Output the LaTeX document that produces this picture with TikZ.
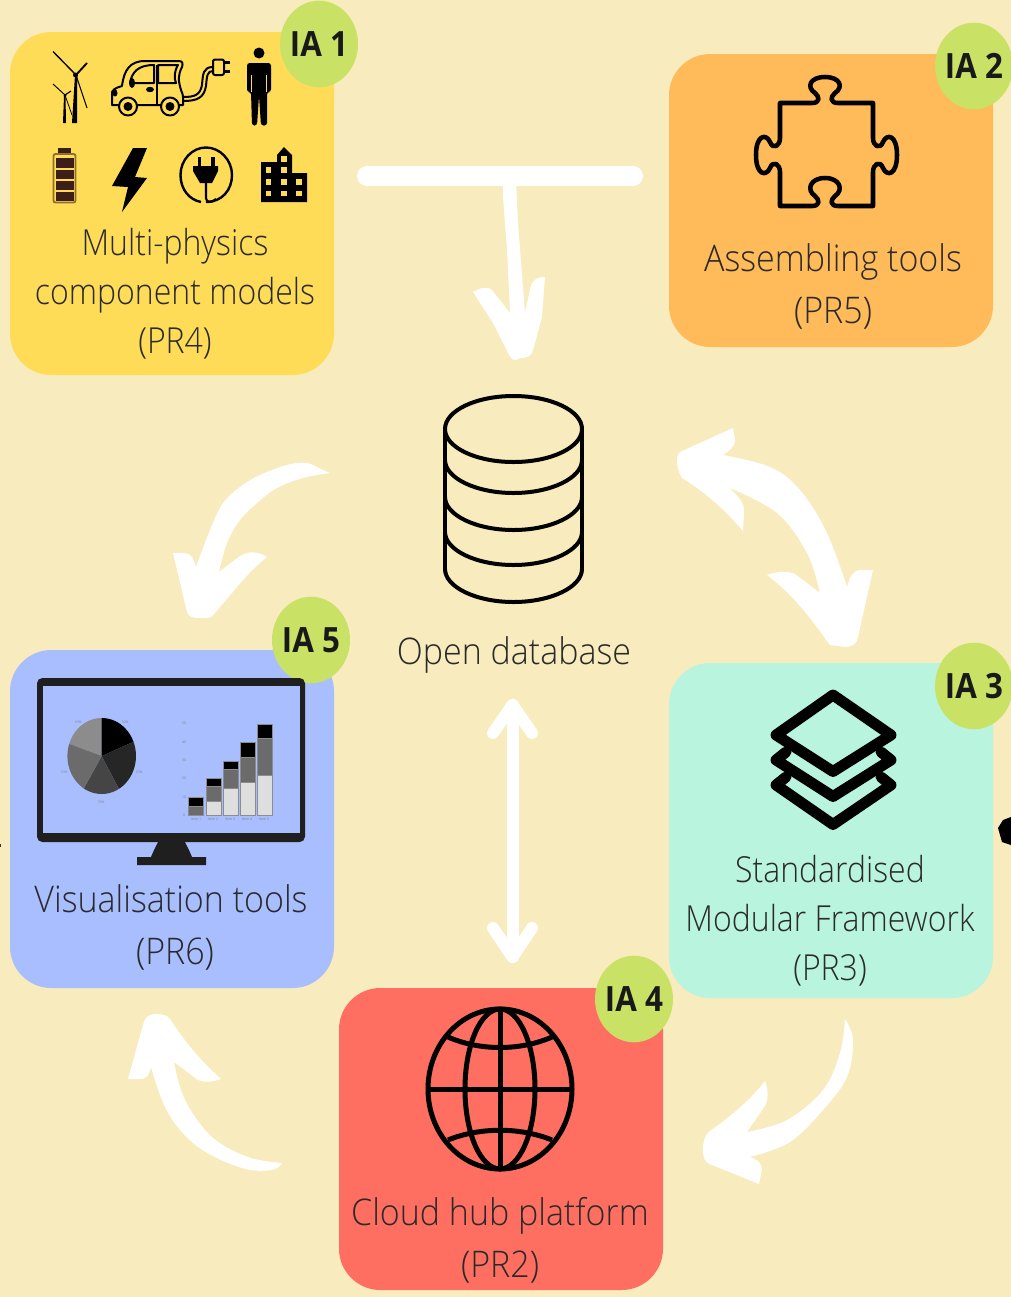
\documentclass[tikz,border=0pt]{standalone}
\usepackage{fontspec}
\setmainfont{Open Sans}
\newfontfamily\lightfont{Open Sans Light}
\definecolor{bgc}{HTML}{F8EBBD}
\definecolor{yel}{HTML}{FFDC58}
\definecolor{ora}{HTML}{FFBA59}
\definecolor{min}{HTML}{B9F4DF}
\definecolor{blu}{HTML}{A8BEFF}
\definecolor{red1}{HTML}{FF6F61}
\definecolor{grn}{HTML}{C9E265}
\definecolor{txt}{HTML}{2A2A2A}
\definecolor{cell}{HTML}{3D1F17}
\definecolor{batt}{HTML}{8F6E2E}
\newcommand\dbarc[1]{\draw[dbline] (445,#1-33) .. controls (445,#1-15) and (476,#1) .. (513.5,#1) .. controls (551,#1) and (582,#1-15) .. (582,#1-33);}
\tikzset{
 box/.style={rounded corners=31pt,inner sep=0pt,draw=none},
 badge/.style={circle,fill=grn,inner sep=0pt,minimum size=58.5pt,yscale=1.11,transform shape,font=\bfseries\fontsize{23.5}{25}\selectfont,text=black!90},
 lab/.style={transform shape,yscale=1.12,align=center,inner sep=0pt,text=txt,font=\lightfont\fontsize{24}{32.8}\selectfont},
 labb/.style={transform shape,yscale=1.08,align=center,inner sep=0pt,text=txt,font=\lightfont\fontsize{25.5}{36.1}\selectfont},
 dbline/.style={line width=3pt,black},
 curve/.style={smooth,tension=0.6},
 tiny/.style={text=gray,font=\fontsize{2.6}{3}\selectfont,inner sep=0pt}
}
\begin{document}
\begin{tikzpicture}[x=0.75pt,y=-0.75pt]
\useasboundingbox (0,0) rectangle (1011,1297);
\fill[bgc] (0,0) rectangle (1011,1297);
% stray marks
\fill[black] (998,828) -- (1003,820) -- (1011,817) -- (1011,845) -- (1002,842) -- cycle;
\fill[black!80] (0,844) rectangle (1,847);
% boxes
\node[box,fill=yel,minimum width=243pt,minimum height=257.25pt] (b1) at (172,203.5) {};
\node[box,fill=ora,minimum width=243pt,minimum height=219.75pt] (b2) at (831,200.5) {};
\node[box,fill=min,minimum width=243pt,minimum height=251.25pt] (b3) at (831,830.5) {};
\node[box,fill=blu,minimum width=243pt,minimum height=253.5pt] (b5) at (172,819) {};
\node[box,fill=red1,minimum width=243pt,minimum height=226.5pt] (b4) at (501,1139) {};
% badges
\node[badge] (i1) at (319,44) {IA 1};
\node[badge] (i2) at (974,66) {IA 2};
\node[badge] (i3) at (974,686) {IA 3};
\node[badge] (i4) at (634,999) {IA 4};
\node[badge] (i5) at (311,640) {IA 5};
% labels
\node[lab] (t1) at (175,294) {Multi-physics\\component models\\(PR4)};
\node[labb] (t2) at (833,286) {Assembling tools\\(PR5)};
\node[labb] (t0) at (514,655) {Open database};
\node[lab] (t3) at (830,920.5) {Standardised\\Modular Framework\\(PR3)};
\node[labb] (t5) at (171,927) {Visualisation tools\\\hspace*{6pt}(PR6)};
\node[labb] (t4) at (500,1240) {Cloud hub platform\\(PR2)};
% T bar + arrow
\coordinate (barL) at (367,176);
\coordinate (barR) at (633,176);
\draw[white,line width=15pt,line cap=round] (barL) -- (barR);
\fill[white] (503,180) -- (516,180) -- (518,223) -- (525,313) -- (530,290) .. controls (531,281) and (536,277) .. (545,277) -- (542,317) -- (533,350) .. controls (531,356) and (528,358) .. (520,358) -- (516,360) .. controls (512,360) and (511,358) .. (509,355) -- (493,323) -- (473,292) .. controls (478,289) and (486,285) .. (492,290) -- (510,313) -- (507,250) -- (503,197) -- cycle;
% bidirectional curved: database and framework
\coordinate (a2s) at (723,455);
\fill[white] plot[curve] coordinates {(a2s) (770,467) (800,490) (827,533) (847,587)} .. controls (850,578) and (851,571) .. (860,570) -- (873,570) -- (858,637) .. controls (857,644) and (852,647) .. (845,647) -- (830,645) .. controls (820,632) and (800,600) .. (767,575) .. controls (775,572) and (785,570) .. (795,574) -- (820,593) -- plot[curve] coordinates {(820,593) (807,553) (777,513) (730,488)} .. controls (740,498) and (745,505) .. (744,512) -- (743,531) .. controls (725,510) and (705,492) .. (682,478) .. controls (678,472) and (677,465) .. (677,460) .. controls (677,455) and (679,452) .. (682,451) -- (733,428) -- (735,440) .. controls (735,447) and (730,450) .. (a2s) -- cycle;
% database to visualisation
\fill[white] plot[curve] coordinates {(330,473) (323,470) (307,463) (287,465) (260,475) (240,487) (223,503) (210,530) (196,567)} .. controls (193,556) and (190,553) .. (183,553) -- (173,553) -- (187,612) .. controls (189,618) and (195,618) .. (200,618) -- (206,618) .. controls (210,618) and (212,617) .. (215,613) -- (237,587) .. controls (247,575) and (257,565) .. (267,557) .. controls (258,551) and (248,551) .. (240,556) -- (219,572) -- plot[curve] coordinates {(219,572) (227,543) (240,520) (257,503) (277,488) (303,478) (330,473)} -- cycle;
% framework to cloud
\fill[white] plot[curve] coordinates {(845,1019) (853,1040) (847,1077) (823,1110) (790,1142) (750,1157)} .. controls (758,1160) and (762,1163) .. (762,1170) -- (759,1184) -- (712,1165) .. controls (704,1163) and (703,1156) .. (703,1150) .. controls (703,1142) and (704,1136) .. (710,1131) .. controls (735,1113) and (750,1100) .. (765,1081) .. controls (769,1090) and (768,1100) .. (765,1106) -- (747,1132) -- plot[curve] coordinates {(747,1132) (787,1120) (823,1090) (840,1053) (845,1019)} -- cycle;
% cloud to visualisation
\fill[white] plot[curve] coordinates {(282,1163) (272,1170) (242,1168) (198,1147) (168,1113) (151,1067)} .. controls (149,1075) and (147,1079) .. (140,1079) -- (128,1079) -- (143,1025) .. controls (145,1016) and (150,1014) .. (156,1014) .. controls (162,1014) and (167,1015) .. (170,1019) .. controls (185,1042) and (200,1060) .. (221,1079) .. controls (212,1082) and (205,1083) .. (198,1080) -- (174,1062) -- plot[curve] coordinates {(174,1062) (185,1100) (212,1137) (248,1157) (282,1163)} -- cycle;
% vertical double arrow
\coordinate (vT) at (512.5,705);
\coordinate (vB) at (512.5,957);
\draw[white,line width=9pt,line cap=round,line join=round] (vT) -- (vB);
\draw[white,line width=9pt,line cap=round,line join=round] (493,733) -- (vT) -- (532,733);
\draw[white,line width=9pt,line cap=round,line join=round] (493,928) -- (vB) -- (532,928);
% database
\draw[dbline] (513.5,429) ellipse [x radius=68.5,y radius=33];
\draw[dbline] (445,429) -- (445,569);
\draw[dbline] (582,429) -- (582,569);
\dbarc{493}\dbarc{530}\dbarc{565}\dbarc{602}
% globe
\begin{scope}[line width=3.75pt,black]
\draw (500,1089) ellipse [x radius=72,y radius=80];
\draw (500,1089) ellipse [x radius=35,y radius=80];
\draw (500,1009) -- (500,1169);
\draw (428,1089) -- (572,1089);
\draw (448,1037) .. controls (480,1051) and (520,1051) .. (552,1037);
\draw (448,1140) .. controls (480,1127) and (520,1127) .. (552,1140);
\end{scope}
% puzzle
\draw[black,line width=3.4pt,line join=round] (780,103) -- (812,103) .. controls (820,103) and (820,97) .. (815,93) .. controls (806,87) and (810,77) .. (825,77) .. controls (840,77) and (844,87) .. (835,93) .. controls (830,97) and (830,103) .. (838,103) -- (873,103) -- (873,138) .. controls (873,146) and (880,150) .. (883,142) .. controls (887,133) and (897,135) .. (897,155) .. controls (897,175) and (887,177) .. (883,168) .. controls (880,160) and (873,164) .. (873,172) -- (873,206) -- (838,206) .. controls (830,206) and (830,200) .. (835,196) .. controls (844,190) and (840,178) .. (825,178) .. controls (810,178) and (806,190) .. (815,196) .. controls (820,200) and (820,206) .. (812,206) -- (780,206) -- (780,172) .. controls (780,164) and (773,160) .. (770,168) .. controls (766,177) and (756,175) .. (756,155) .. controls (756,135) and (766,133) .. (770,142) .. controls (773,150) and (780,146) .. (780,138) -- cycle;
% layers
\begin{scope}[line width=8.2pt,black,line join=round,line cap=round]
\draw (833,695) -- (891,735) -- (833,771.5) -- (776,735) -- cycle;
\draw (786,752) -- (776,760) -- (833,796.5) -- (891,760) -- (881,752);
\draw (786,777) -- (776,785) -- (833,824.5) -- (891,785) -- (881,777);
\end{scope}
% monitor
\fill[black!88,rounded corners=4pt] (37,678) rectangle (305,842);
\fill[blu] (42.5,686) rectangle (299.5,833);
\fill[black!88] (158,842) -- (185,842) .. controls (188,848) and (190,852) .. (192,857) -- (206,857) -- (206,865) -- (137,865) -- (137,857) -- (151,857) .. controls (153,852) and (155,848) .. (158,842) -- cycle;
% pie
\begin{scope}
\clip (101.7,756) ellipse [x radius=34.3,y radius=38];
\fill[black!45] (101.7,756) -- (101.7,700) -- (50,700) -- (40,733) -- cycle;
\fill[black] (101.7,756) -- (101.7,700) -- (160,700) -- (160,730) -- cycle;
\fill[black!85] (101.7,756) -- (160,730) -- (160,800) -- (130,810) -- cycle;
\fill[black!73] (101.7,756) -- (130,810) -- (72,810) -- cycle;
\fill[black!58] (101.7,756) -- (72,810) -- (40,790) -- (40,733) -- cycle;
\end{scope}
\node[tiny] (pa) at (78,722) {10\%};
\node[tiny] (pb) at (125,722) {10\%};
\node[tiny] (pc) at (64,772) {10\%};
\node[tiny] (pd) at (139,772) {10\%};
\node[tiny] (pe) at (101,802) {10\%};
% bars
\begin{scope}[draw=black!45,line width=0.4pt]
\filldraw[fill=black!58] (188,815.7) rectangle (203,806);
\filldraw[fill=black] (188,806) rectangle (203,797);
\filldraw[fill=black!13] (206,815.7) rectangle (221,801);
\filldraw[fill=black!58] (206,801) rectangle (221,786);
\filldraw[fill=black] (206,786) rectangle (221,778);
\filldraw[fill=black!13] (223,815.7) rectangle (238,788);
\filldraw[fill=black!58] (223,788) rectangle (238,769);
\filldraw[fill=black] (223,769) rectangle (238,761);
\filldraw[fill=black!13] (240,815.7) rectangle (255,782);
\filldraw[fill=black!58] (240,782) rectangle (255,757);
\filldraw[fill=black] (240,757) rectangle (255,742);
\filldraw[fill=black!13] (257,815.7) rectangle (272,775);
\filldraw[fill=black!58] (257,775) rectangle (272,738);
\filldraw[fill=black] (257,738) rectangle (272,724);
\end{scope}
\node[tiny] (y0) at (184,815) {0};
\node[tiny] (y1) at (184,797) {10};
\node[tiny] (y2) at (184,778) {20};
\node[tiny] (y3) at (184,760) {30};
\node[tiny] (y4) at (184,742) {40};
\node[tiny] (y5) at (184,723) {50};
\node[tiny] (x1) at (196,819) {Item 1};
\node[tiny] (x2) at (213,819) {Item 2};
\node[tiny] (x3) at (230,819) {Item 3};
\node[tiny] (x4) at (247,819) {Item 4};
\node[tiny] (x5) at (264,819) {Item 5};
% turbines
\fill (72,123) -- (77,123) -- (77.3,75) -- (75,75) -- cycle;
\draw[line width=1pt] (76,75) -- (53,51.5);
\draw[line width=1.4pt] (76,75) -- (87,63);
\draw[line width=0.8pt] (76,75) -- (87,108);
\fill (75.5,75) circle (2.5);
\fill (63,123) -- (66,123) -- (65.5,96) -- (64,96) -- cycle;
\draw[line width=0.7pt] (65,95) -- (53,84);
\draw[line width=0.9pt] (65,95) -- (71,91);
\draw[line width=0.6pt] (65,95) -- (72,115);
\fill (65,95.5) circle (1.5);
% car
\begin{scope}[line width=1.5pt,black,line join=round]
\draw (183,97) .. controls (195,97) and (200,95) .. (202,85) .. controls (203,74) and (203,67) .. (213,67);
\draw (183,101) .. controls (197,101) and (204,98) .. (206,86) .. controls (207,76) and (207,71) .. (213,71);
\draw[fill=yel,rounded corners=1.5pt] (213,59.5) rectangle (224,75);
\draw[line width=2.2pt] (224,62.5) -- (230,62.5);
\draw[line width=2.2pt] (224,71.5) -- (230,71.5);
\draw[fill=yel] (117,105) -- (112,105) -- (112,92) .. controls (114,88) and (119,87) .. (122,86) .. controls (124,70) and (130,61) .. (145,61) -- (179,61) .. controls (183,61) and (183,64) .. (182,67) .. controls (178,75) and (178,80) .. (181,90) .. controls (184,96) and (183,100) .. (183,105) -- cycle;
\draw (130,83) .. controls (132,72) and (138,65) .. (154,65) -- (154,83) -- cycle;
\draw (158,65) -- (178,65) .. controls (174,72) and (174,78) .. (176,83) -- (158,83) -- cycle;
\draw (157,65) -- (157,105);
\draw[fill=yel] (128,106.5) circle (9);
\fill (128,106.5) circle (4.5);
\draw[fill=yel] (170,106.5) circle (9);
\fill (170,106.5) circle (4.5);
\fill (132,83) ellipse [x radius=3,y radius=5];
\fill (150,89.5) ellipse [x radius=4,y radius=2.7];
\fill (115,93) ellipse [x radius=2.5,y radius=3.5];
\end{scope}
% person
\fill (259,53) circle [radius=5.5];
\fill[rounded corners=2pt] (247,92) -- (247,63) -- (271,63) -- (271,92) -- (267,92) -- (267,125.5) -- (261,125.5) -- (259,96) -- (257,125.5) -- (252,125.5) -- (251,92) -- cycle;
\draw[yel,line width=0.7pt] (251.2,75) -- (251.2,92);
\draw[yel,line width=0.7pt] (266.8,75) -- (266.8,92);
% battery
\fill[cell] (58,148) rectangle (71,153);
\draw[line width=1.4pt,draw=batt,rounded corners=1.5pt] (53.5,154) rectangle (75.5,202.5);
\fill[cell] (55.5,158) rectangle (73.5,168);
\fill[cell] (55.5,169.5) rectangle (73.5,179);
\fill[cell] (55.5,180.5) rectangle (73.5,190);
\fill[cell] (55.5,191.5) rectangle (73.5,201);
% bolt
\fill (133,148) -- (147,148) -- (135,177) -- (147,178) -- (122,212) -- (128,187) -- (112,186) -- cycle;
% plug
\draw[line width=1.8pt] (206,202) .. controls (222,202) and (232,190) .. (232,175) .. controls (232,160) and (220,147.5) .. (206,147.5) .. controls (192,147.5) and (180.5,160) .. (180.5,175) .. controls (180.5,190) and (190,200) .. (201,202);
\draw[line width=1.6pt] (206,183) -- (206,198) .. controls (206,203) and (212,203) .. (216,199);
\fill (197.5,157) rectangle (201,167);
\fill (211,157) rectangle (214.5,167);
\fill (193,166) -- (218,166) -- (218,171) -- (212,183) -- (200,183) -- (193,171) -- cycle;
% building
\fill (261,162) -- (277,162) -- (277,155) -- (284,147) -- (292,155) -- (292,173) -- (307,173) -- (307,202) -- (261,202) -- cycle;
\foreach \p in {(265.5,167),(281,167),(265.5,179),(281,179),(296,179),(265.5,190.5),(281,190.5),(296,190.5)}{
 \fill[yel] \p ++(0,0) rectangle ++(5.5,5.5);
}
\fill[yel] (281,156) rectangle ++(5.5,6);
\end{tikzpicture}
\end{document}
